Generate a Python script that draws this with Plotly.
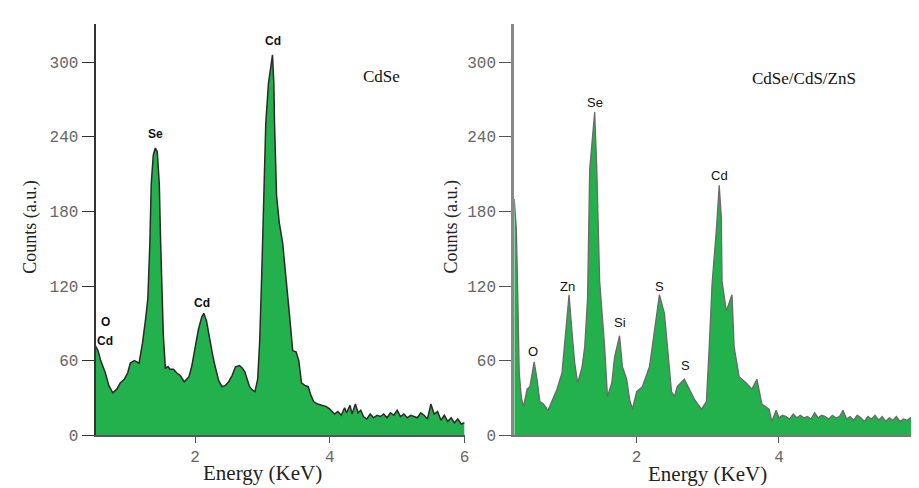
import plotly.graph_objects as go

# ---- CdSe spectrum (left) ----
cdse_energy = [0.52, 0.56, 0.60, 0.67, 0.72, 0.78, 0.84, 0.89, 0.95, 1.00, 1.04, 1.10, 1.17, 1.22, 1.27,
               1.30, 1.33, 1.35, 1.38, 1.41, 1.44, 1.47, 1.49, 1.51, 1.53, 1.56, 1.60, 1.63, 1.68, 1.73,
               1.78, 1.84, 1.88, 1.91, 1.95, 1.99, 2.05, 2.10, 2.13, 2.17, 2.22, 2.26, 2.30, 2.35, 2.40,
               2.45, 2.50, 2.55, 2.60, 2.66, 2.70, 2.74, 2.78, 2.81, 2.86, 2.89, 2.93, 2.96, 2.99, 3.02,
               3.05, 3.09, 3.12, 3.15, 3.17, 3.18, 3.21, 3.25, 3.30, 3.33, 3.36, 3.40, 3.45, 3.50, 3.54,
               3.58, 3.63, 3.68, 3.72, 3.76, 3.82, 3.88, 3.95, 4.00, 4.07, 4.12, 4.17, 4.22, 4.25, 4.30,
               4.33, 4.38, 4.42, 4.46, 4.50, 4.55, 4.60, 4.65, 4.70, 4.75, 4.80, 4.85, 4.90, 4.95, 5.00,
               5.05, 5.10, 5.15, 5.20, 5.25, 5.30, 5.35, 5.40, 5.45, 5.50, 5.55, 5.60, 5.65, 5.70, 5.75,
               5.80, 5.85, 5.90, 5.95, 6.00]
cdse_counts = [72, 68, 60, 50, 40, 34, 37, 42, 45, 50, 58, 60, 58, 74, 95,
               110, 155, 202, 225, 231, 228, 202, 155, 118, 80, 54, 55, 53, 53, 50,
               48, 43, 45, 47, 55, 68, 85, 95, 98, 92, 76, 65, 55, 44, 39,
               40, 43, 48, 55, 56, 54, 51, 44, 39, 36, 35, 45, 76, 129, 193,
               251, 283, 294, 306, 283, 251, 193, 171, 155, 139, 124, 98, 68, 67, 60,
               42, 40, 39, 32, 27, 25, 24, 23, 21, 17, 19, 16, 22, 18, 24,
               17, 25, 18, 20, 15, 13, 17, 14, 16, 15, 17, 14, 18, 16, 20,
               15, 17, 14, 16, 15, 14, 18, 16, 13, 25, 17, 19, 12, 16, 11,
               14, 10, 13, 9, 10]

# ---- CdSe/CdS/ZnS spectrum (right) ----
core_energy = [0.28, 0.31, 0.33, 0.35, 0.38, 0.41, 0.46, 0.50, 0.56, 0.60, 0.64, 0.69, 0.755, 0.81, 0.88,
               0.95, 0.99, 1.05, 1.09, 1.13, 1.17, 1.23, 1.27, 1.31, 1.34, 1.41, 1.44, 1.48, 1.55, 1.59,
               1.65, 1.69, 1.76, 1.80, 1.86, 1.90, 1.94, 2.00, 2.08, 2.18, 2.25, 2.32, 2.39, 2.43, 2.49,
               2.53, 2.57, 2.67, 2.74, 2.81, 2.91, 2.98, 3.02, 3.06, 3.12, 3.16, 3.19, 3.20, 3.26, 3.30,
               3.34, 3.37, 3.44, 3.54, 3.62, 3.69, 3.76, 3.86, 3.90, 3.96, 4.00, 4.05, 4.10, 4.15, 4.20,
               4.25, 4.30, 4.35, 4.40, 4.45, 4.50, 4.55, 4.60, 4.65, 4.70, 4.75, 4.80, 4.85, 4.90, 4.95,
               5.00, 5.05, 5.10, 5.15, 5.20, 5.25, 5.30, 5.35, 5.40, 5.45, 5.50, 5.55, 5.60, 5.65, 5.70,
               5.75, 5.80, 5.85, 5.90, 5.95, 6.00]
core_counts = [190, 165, 110, 50, 30, 23, 37, 39, 59, 45, 27, 25, 20, 27, 37,
               50, 76, 113, 84, 58, 42, 54, 71, 110, 214, 260, 214, 124, 71, 31,
               42, 63, 80, 55, 45, 29, 21, 35, 39, 55, 84, 113, 98, 71, 35,
               31, 39, 45, 37, 29, 21, 27, 71, 122, 165, 201, 175, 124, 100, 106,
               113, 71, 47, 42, 37, 45, 25, 21, 11, 20, 14, 16, 15, 13, 17,
               14, 16, 14, 15, 13, 18, 14, 16, 15, 13, 16, 14, 15, 20, 13,
               15, 12, 16, 14, 11, 15, 13, 16, 12, 15, 11, 14, 12, 15, 11,
               13, 12, 14, 10, 12, 8]

tick_vals_y = [0, 60, 120, 180, 240, 300]
tick_vals_x = [2, 4, 6]

GREEN = "#22b14c"

fig = go.Figure()
fig.add_trace(go.Scatter(x=cdse_energy, y=cdse_counts, mode="lines", fill="tozeroy",
                         fillcolor=GREEN, line=dict(color="#2a2a2a", width=1.5),
                         xaxis="x", yaxis="y", showlegend=False))
fig.add_trace(go.Scatter(x=core_energy, y=core_counts, mode="lines", fill="tozeroy",
                         fillcolor=GREEN, line=dict(color="#6a6a6a", width=1.3),
                         xaxis="x2", yaxis="y2", showlegend=False))

tickfont = dict(family="Liberation Mono", size=16, color="#666")
common_y = dict(range=[0, 331], tickvals=tick_vals_y, ticks="outside", ticklen=12,
                showgrid=False, zeroline=False, showline=True, tickfont=tickfont,
                domain=[0.1045, 0.967])
common_x = dict(tickvals=tick_vals_x, ticks="outside", ticklen=6, showgrid=False,
                zeroline=False, showline=True, tickfont=tickfont)

fig.update_layout(
    width=919, height=488,
    margin=dict(l=0, r=0, t=0, b=0),
    paper_bgcolor="white", plot_bgcolor="white",
    xaxis=dict(domain=[0.0958, 0.4995], range=[0.524, 6.0], anchor="y",
               linecolor="#555", linewidth=1.5, tickcolor="#555", **common_x),
    yaxis=dict(anchor="x", linecolor="#333", linewidth=2, tickcolor="#333", **common_y),
    xaxis2=dict(domain=[0.5539, 1.0], range=[0.28, 6.01], anchor="y2",
                linecolor="#777", linewidth=1.5, tickcolor="#555", **common_x),
    yaxis2=dict(anchor="x2", linecolor="#888", linewidth=3, tickcolor="#555", **common_y),
)

serif = "Liberation Serif"
ann = []


def txt(text, x, y, size, angle=0, color="#222", family=serif):
    return dict(text=text, x=x, y=y, xref="paper", yref="paper", textangle=angle,
                xanchor="center", yanchor="middle", showarrow=False,
                font=dict(family=family, size=size, color=color))


# axis titles
ann.append(txt("Counts (a.u.)", 23 / 919, 1 - 224 / 488, 18, -90))
ann.append(txt("Counts (a.u.)", 446 / 919, 1 - 224 / 488, 18, -90))
ann.append(txt("Energy (KeV)", 256 / 919, 1 - 476 / 488, 21))
ann.append(txt("Energy (KeV)", 703 / 919, 1 - 477 / 488, 21))
# sample names
ann.append(txt("CdSe", 376 / 919, 1 - 70 / 488, 17, color="#111"))
ann.append(txt("CdSe/CdS/ZnS", 800 / 919, 1 - 72 / 488, 17, color="#111"))

# peak labels (left)
left_labels = [("Cd", 3.15, 317), ("Se", 1.41, 242), ("Cd", 2.10, 106), ("O", 0.67, 91), ("Cd", 0.66, 76)]
for t, xx, yy in left_labels:
    ann.append(dict(text="<b>%s</b>" % t, x=xx, y=yy, xref="x", yref="y", showarrow=False,
                    xanchor="center", yanchor="middle",
                    font=dict(family="Liberation Sans", size=12, color="#111")))
right_labels = [("Se", 1.41, 268), ("Cd", 3.16, 209), ("Zn", 1.03, 120), ("Si", 1.76, 91),
                ("S", 2.32, 120), ("O", 0.55, 67), ("S", 2.69, 56)]
for t, xx, yy in right_labels:
    ann.append(dict(text=t, x=xx, y=yy, xref="x2", yref="y2", showarrow=False,
                    xanchor="center", yanchor="middle",
                    font=dict(family="Liberation Sans Narrow, Liberation Sans", size=13, color="#111")))

fig.update_layout(annotations=ann)
fig.write_html("out.html")
